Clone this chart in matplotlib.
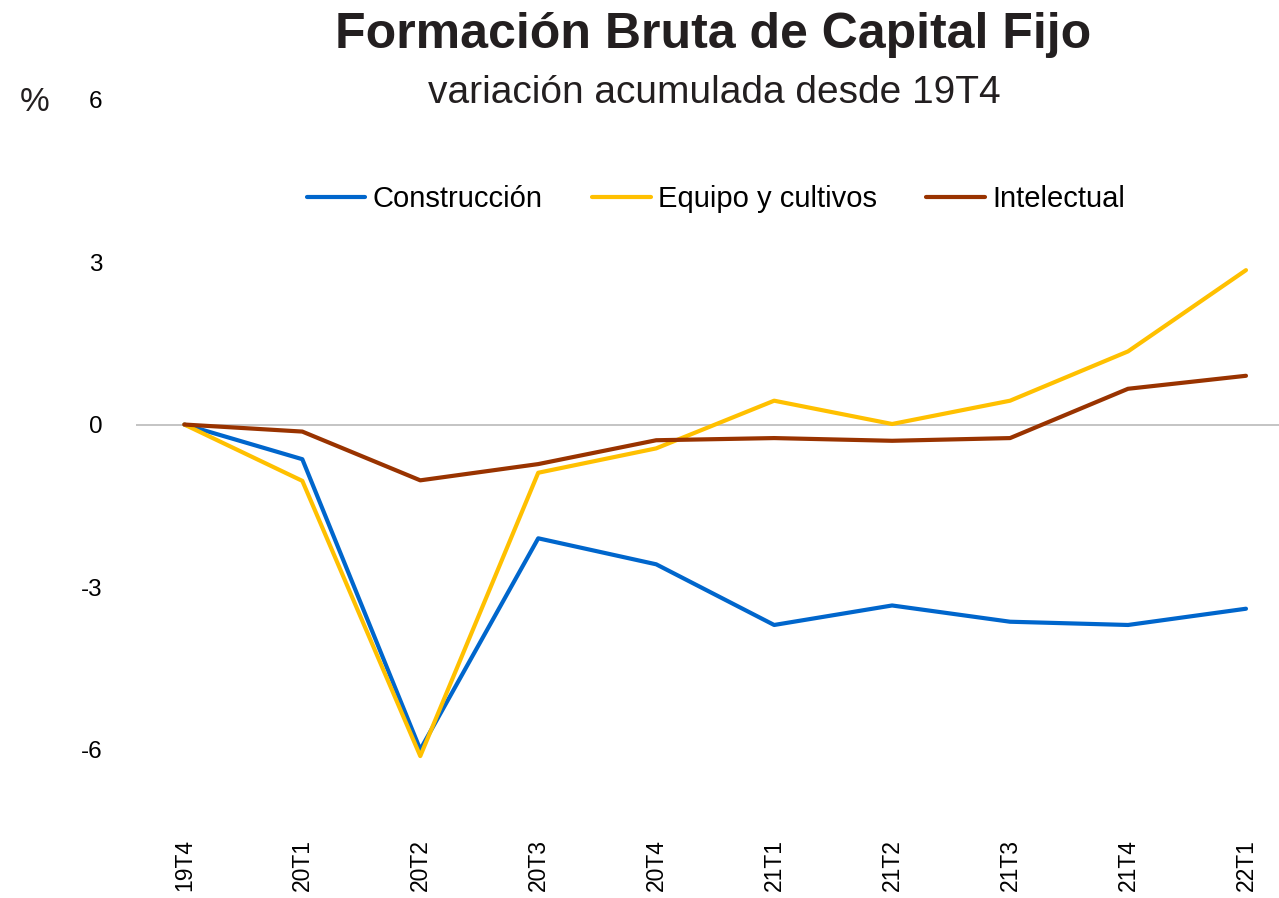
import matplotlib
matplotlib.use("Agg")
import matplotlib.pyplot as plt
import numpy as np

plt.rcParams['font.family'] = ['Liberation Sans', 'DejaVu Sans']

# Data
quarters = ['19T4', '20T1', '20T2', '20T3', '20T4', '21T1', '21T2', '21T3', '21T4', '22T1']
construccion = [0.0, -0.64, -6.0, -2.10, -2.58, -3.70, -3.34, -3.64, -3.70, -3.40]
equipo = [0.0, -1.04, -6.12, -0.89, -0.44, 0.44, 0.01, 0.44, 1.35, 2.85]
intelectual = [0.0, -0.13, -1.03, -0.73, -0.29, -0.25, -0.30, -0.25, 0.66, 0.90]

series_names = ['Construcción', 'Equipo y cultivos', 'Intelectual']
series_colors = ['#0066CC', '#FFC000', '#993300']

W, H = 1279, 898
fig = plt.figure(figsize=(W / 100, H / 100), dpi=100)
ax = fig.add_axes([136 / W, 1 - 820 / H, 1143 / W, 720.5 / H])

x = np.arange(len(quarters))
for vals, name, col in zip([construccion, equipo, intelectual], series_names, series_colors):
    ax.plot(x, vals, color=col, lw=3.0, label=name, solid_capstyle='round', solid_joinstyle='round')

# zero line
ax.axhline(0, color='#BFBFBF', lw=1.3, zorder=0)

ax.set_xlim(-0.41, 9.28)
ax.set_ylim(-7.3, 6)
ax.set_yticks([6, 3, 0, -3, -6])
ax.set_yticklabels(['6', '3', '0', '-3', '-6'])
ax.set_xticks(x)
ax.set_xticklabels(quarters, rotation=90)
ax.tick_params(axis='y', length=0, pad=24, labelsize=17.5, labelcolor='#000000')
ax.tick_params(axis='x', length=0, pad=14, labelsize=16.5, labelcolor='#000000')
for s in ax.spines.values():
    s.set_visible(False)

# titles
fig.text(713 / W, 1 - 48 / H, 'Formación Bruta de Capital Fijo', ha='center', va='baseline',
         fontsize=36, fontweight='bold', color='#231F20')
fig.text(714 / W, 1 - 103 / H, 'variación acumulada desde 19T4', ha='center', va='baseline',
         fontsize=28, color='#231F20')
fig.text(35 / W, 1 - 111 / H, '%', ha='center', va='baseline', fontsize=24, color='#231F20')

fig.legend(loc='center', bbox_to_anchor=(716 / W, 1 - 199 / H), ncol=3, frameon=False,
           fontsize=21, handlelength=2.0, handletextpad=0.25, columnspacing=1.7)

fig.savefig('out.png', dpi=100)
